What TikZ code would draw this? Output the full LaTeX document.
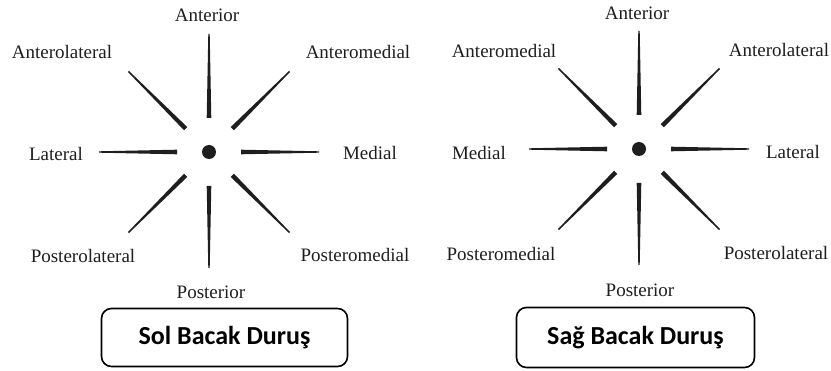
\documentclass[tikz,border=0pt]{standalone}
\usepackage{fontspec}
\setmainfont{Liberation Serif}
\newfontfamily\boxfont{Carlito}
\usetikzlibrary{positioning, calc}
\definecolor{ScanInk}{HTML}{1E1E1E}

\begin{document}
\begin{tikzpicture}[
      x=1pt, y=-1pt,
      hub/.style={circle, fill=ScanInk, minimum size=14pt, inner sep=0pt},
      spoke/.style={fill=ScanInk},
      dirlabel/.style={text=ScanInk, font=\fontsize{19}{22}\selectfont, inner sep=0pt, text height=13pt, text depth=0pt},
      stance/.style={draw=black, line width=1.6pt, rounded corners=10pt, font=\boxfont\bfseries\fontsize{26}{30}\selectfont, inner sep=0pt}
  ]
    \useasboundingbox (0,0) rectangle (831,371);
    % centre dots
    \node[hub](L) at (209,152){};
    \node[hub](R) at (639,149){};
    % tapered spokes
    \foreach \c in {L,R}{
      \foreach \a/\ri/\ro in {0/32/110, 45/33/114, 90/34/116, 135/33/114, 180/32/110, 225/33/114, 270/34/118, 315/33/114}{
        \fill[spoke] ($(\c)+(\a:\ri)+(\a+90:2.3)$) -- ($(\c)+(\a:\ro)+(\a+90:0.7)$)
          -- ($(\c)+(\a:\ro)+(\a-90:0.7)$) -- ($(\c)+(\a:\ri)+(\a-90:2.3)$) -- cycle;
      }
    }
    % left leg labels
    \node[dirlabel](Lant) at (207,15){Anterior};
    \node[dirlabel](Lantlat) at (62,52){Anterolateral};
    \node[dirlabel](Lantmed) at (358,52){Anteromedial};
    \node[dirlabel](Llat) at (56,154){Lateral};
    \node[dirlabel](Lmed) at (370,153){Medial};
    \node[dirlabel](Lpostlat) at (83,256){Posterolateral};
    \node[dirlabel](Lpostmed) at (355,255){Posteromedial};
    \node[dirlabel](Lpost) at (211,292){Posterior};
    % right leg labels
    \node[dirlabel](Rant) at (637,13){Anterior};
    \node[dirlabel](Rantmed) at (504,51){Anteromedial};
    \node[dirlabel](Rantlat) at (779,50){Anterolateral};
    \node[dirlabel](Rmed) at (479,153){Medial};
    \node[dirlabel](Rlat) at (793,152){Lateral};
    \node[dirlabel](Rpostmed) at (501,254){Posteromedial};
    \node[dirlabel](Rpostlat) at (776,253){Posterolateral};
    \node[dirlabel](Rpost) at (640,290){Posterior};
    % stance boxes
    \node[stance, minimum width=246pt, minimum height=58pt](Lbox) at (224.5,337.5){Sol Bacak Duruş};
    \node[stance, minimum width=238pt, minimum height=60pt](Rbox) at (635.5,337.5){Sağ Bacak Duruş};
  \end{tikzpicture}
\end{document}
